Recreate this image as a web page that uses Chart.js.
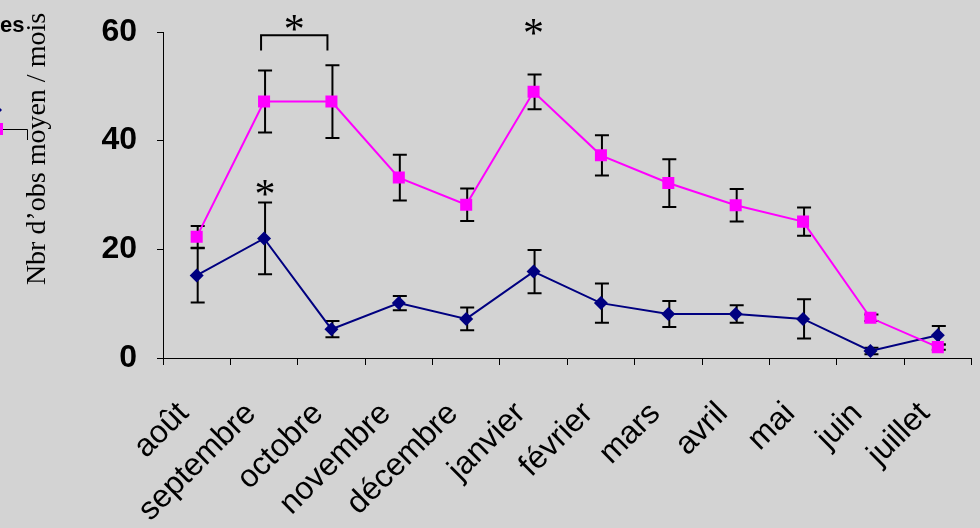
<!DOCTYPE html>
<html lang="fr">
<head>
  <meta charset="UTF-8" />
  <title>Nbr d'obs moyen / mois</title>
  <style>
    body {
      margin: 0;
      background: #d3d3d3;
      overflow: hidden;
    }
    #wrap {
      width: 980px;
      height: 528px;
    }
  </style>
</head>
<body>
  <div id="wrap">
    <canvas id="obsChart" width="980" height="528"></canvas>
  </div>

  <script src="https://cdn.jsdelivr.net/npm/chart.js"></script>
  <script>
    // months of the study
    const months = ['août', 'septembre', 'octobre', 'novembre', 'décembre', 'janvier',
                    'février', 'mars', 'avril', 'mai', 'juin', 'juillet'];

    // navy series (diamonds)
    const blueMeans = [15.2, 22.0, 5.3, 10.1, 7.2, 15.9, 10.1, 8.1, 8.1, 7.2, 1.3, 4.2];
    const blueErr   = [5.0, 6.6, 1.5, 1.3, 2.1, 4.0, 3.6, 2.4, 1.6, 3.6, 0.6, 1.7];

    // magenta series (squares)
    const pinkMeans = [22.3, 47.2, 47.2, 33.2, 28.2, 49.0, 37.3, 32.2, 28.1, 25.1, 7.4, 2.0];
    const pinkErr   = [2.0, 5.7, 6.7, 4.2, 3.0, 3.2, 3.7, 4.4, 3.0, 2.6, 0.6, 0.5];

    const yTicks = [0, 20, 40, 60];
    const yTitle = 'Nbr d’obs moyen / mois';

    // error bars, drawn just under each dataset
    const errorBars = {
      id: 'errorBars',
      beforeDatasetDraw(chart, args) {
        const ds = chart.data.datasets[args.index];
        if (!ds.errors) return;
        const { ctx, scales: { x, y } } = chart;
        ctx.save();
        ctx.strokeStyle = '#000';
        ctx.lineWidth = 2;
        ds.data.forEach((v, i) => {
          const px = x.getPixelForValue(i) + 1;
          const top = y.getPixelForValue(v + ds.errors[i]);
          const bot = y.getPixelForValue(v - ds.errors[i]);
          ctx.beginPath();
          ctx.moveTo(px, top); ctx.lineTo(px, bot);
          ctx.moveTo(px - 7, top); ctx.lineTo(px + 7, top);
          ctx.moveTo(px - 7, bot); ctx.lineTo(px + 7, bot);
          ctx.stroke();
        });
        ctx.restore();
      }
    };

    function star(ctx, cx, cy) {
      ctx.font = '42px "Liberation Serif", "Times New Roman", serif';
      ctx.textAlign = 'center';
      ctx.textBaseline = 'alphabetic';
      const m = ctx.measureText('*');
      const base = cy + (m.actualBoundingBoxAscent - m.actualBoundingBoxDescent) / 2;
      ctx.fillText('*', cx, base);
    }

    // axis title, asterisks, bracket and the clipped legend on the left
    const extras = {
      id: 'extras',
      afterDraw(chart) {
        const { ctx, scales: { x, y } } = chart;
        ctx.save();
        ctx.fillStyle = '#000';
        ctx.strokeStyle = '#000';

        // y title
        ctx.save();
        ctx.translate(45, 149);
        ctx.rotate(-Math.PI / 2);
        ctx.font = '28px "Liberation Serif", "Times New Roman", serif';
        ctx.textAlign = 'center';
        ctx.textBaseline = 'alphabetic';
        ctx.fillText(yTitle, 0, 0);
        ctx.restore();

        // significance marks
        star(ctx, x.getPixelForValue(1) + 1, y.getPixelForValue(31.3));
        star(ctx, x.getPixelForValue(5), y.getPixelForValue(60.9));
        const bx1 = x.getPixelForValue(1) - 3;
        const bx2 = x.getPixelForValue(2) - 4;
        const by = y.getPixelForValue(59.4);
        const byEnd = y.getPixelForValue(56.6);
        ctx.lineWidth = 2;
        ctx.beginPath();
        ctx.moveTo(bx1, byEnd); ctx.lineTo(bx1, by); ctx.lineTo(bx2, by); ctx.lineTo(bx2, byEnd);
        ctx.stroke();
        star(ctx, (bx1 + bx2) / 2, y.getPixelForValue(61.7));

        // legend remnant (cut by the left edge)
        ctx.font = 'bold 22px "Liberation Sans", Arial, sans-serif';
        ctx.textAlign = 'left';
        ctx.fillText('es', 0, 32);
        ctx.fillStyle = '#000080';
        ctx.beginPath();
        ctx.moveTo(-4, 104); ctx.lineTo(2, 110); ctx.lineTo(-4, 116); ctx.closePath();
        ctx.fill();
        ctx.fillStyle = '#ff00ff';
        ctx.fillRect(-3, 123, 6, 12);
        ctx.lineWidth = 1;
        ctx.beginPath();
        ctx.moveTo(3, 129.5); ctx.lineTo(27.5, 129.5); ctx.lineTo(27.5, 140);
        ctx.stroke();
        ctx.restore();
      }
    };

    const ctx = document.getElementById('obsChart').getContext('2d');
    new Chart(ctx, {
      type: 'line',
      data: {
        labels: months,
        datasets: [
          {
            label: 'magenta',
            data: pinkMeans,
            errors: pinkErr,
            borderColor: '#ff00ff',
            backgroundColor: '#ff00ff',
            borderWidth: 2,
            pointStyle: 'rect',
            pointRadius: 8.5,
            pointBorderWidth: 0,
            tension: 0
          },
          {
            label: 'navy',
            data: blueMeans,
            errors: blueErr,
            borderColor: '#000080',
            backgroundColor: '#000080',
            borderWidth: 2,
            pointStyle: 'rectRot',
            pointRadius: 7,
            pointBorderWidth: 0,
            tension: 0
          }
        ]
      },
      options: {
        responsive: false,
        animation: false,
        layout: { padding: { top: 32, right: 7, left: 0, bottom: 0 } },
        plugins: {
          legend: { display: false },
          tooltip: { enabled: false }
        },
        scales: {
          x: {
            offset: true,
            afterFit: (s) => {
              s.height = 170;
              s.paddingLeft = 0;
              s.paddingRight = 0;
            },
            border: { display: true, color: '#000', width: 1 },
            grid: {
              offset: true,
              drawOnChartArea: false,
              drawTicks: true,
              tickLength: 7,
              color: '#000'
            },
            ticks: {
              autoSkip: false,
              minRotation: 45,
              maxRotation: 45,
              padding: 30,
              labelOffset: -13,
              color: '#000',
              font: { family: '"Liberation Sans", Arial, sans-serif', size: 32 }
            }
          },
          y: {
            min: 0,
            max: 60,
            afterFit: (s) => {
              s.width = 163;
              s.paddingTop = 0;
              s.paddingBottom = 0;
            },
            afterBuildTicks: (s) => { s.ticks = yTicks.map(v => ({ value: v })); },
            border: { display: true, color: '#000', width: 1 },
            grid: {
              drawOnChartArea: false,
              drawTicks: true,
              tickLength: 6,
              color: '#000'
            },
            ticks: {
              padding: 20,
              color: '#000',
              font: { family: '"Liberation Sans", Arial, sans-serif', size: 32, weight: 'bold' }
            }
          }
        }
      },
      plugins: [errorBars, extras]
    });
  </script>
</body>
</html>
